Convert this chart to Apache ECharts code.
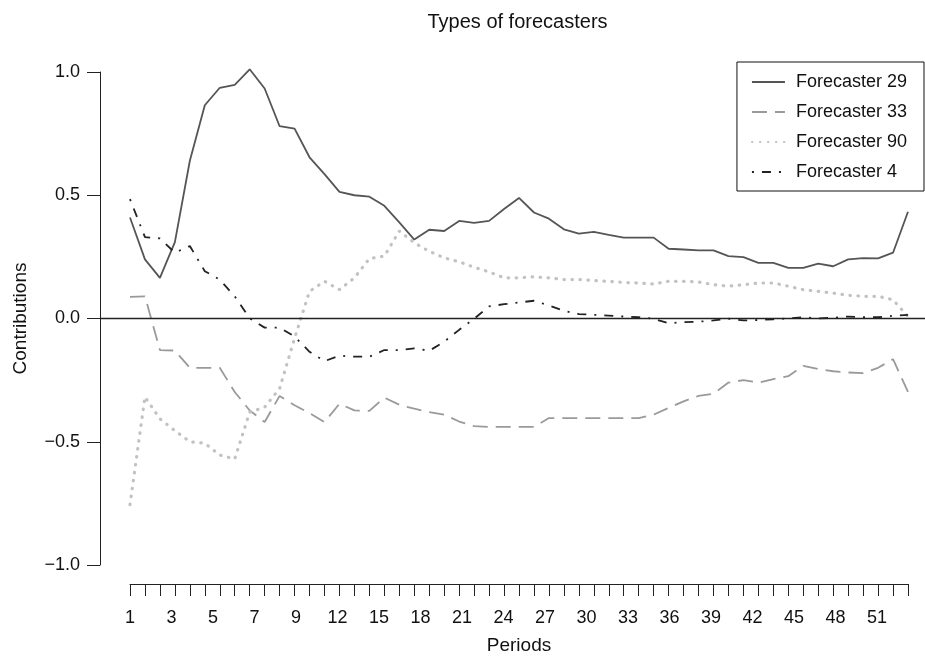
<!DOCTYPE html>
<html>
<head>
<meta charset="utf-8">
<script src="https://cdn.jsdelivr.net/npm/echarts@6/dist/echarts.min.js"></script>
<style>
  html, body { margin: 0; padding: 0; background: #fff; }
  #chart { width: 925px; height: 658px; }
</style>
</head>
<body>
<div id="chart"></div>
<script>
// Periods 1..53
const periods = [1,2,3,4,5,6,7,8,9,10,11,12,13,14,15,16,17,18,19,20,21,22,23,24,25,26,27,
  28,29,30,31,32,33,34,35,36,37,38,39,40,41,42,43,44,45,46,47,48,49,50,51,52,53];

// Tick labels printed under the period axis
const periodLabels = ['1','3','5','7','9','12','15','18','21','24','27','30','33','36','39','42','45','48','51'];

const seriesNames = ['Forecaster 29', 'Forecaster 33', 'Forecaster 90', 'Forecaster 4'];

const forecaster29 = [0.41,0.24,0.165,0.31,0.64,0.865,0.936,0.948,1.011,0.933,0.78,0.77,0.654,0.586,
  0.514,0.50,0.494,0.457,0.39,0.32,0.36,0.355,0.396,0.388,0.396,0.444,0.489,0.43,0.405,0.362,
  0.344,0.351,0.339,0.328,0.328,0.328,0.283,0.28,0.276,0.276,0.253,0.249,0.226,0.226,0.205,
  0.205,0.223,0.212,0.24,0.245,0.244,0.267,0.433];

const forecaster33 = [0.088,0.09,-0.128,-0.13,-0.2,-0.2,-0.2,-0.298,-0.373,-0.42,-0.314,-0.352,
  -0.384,-0.42,-0.346,-0.373,-0.375,-0.321,-0.35,-0.366,-0.38,-0.39,-0.418,-0.437,-0.44,-0.44,
  -0.44,-0.44,-0.404,-0.404,-0.404,-0.404,-0.404,-0.404,-0.404,-0.39,-0.363,-0.336,-0.314,
  -0.305,-0.26,-0.25,-0.26,-0.246,-0.234,-0.192,-0.205,-0.214,-0.219,-0.222,-0.2,-0.165,-0.298];

const forecaster90 = [-0.755,-0.318,-0.407,-0.455,-0.5,-0.506,-0.554,-0.57,-0.38,-0.36,-0.284,
  -0.08,0.11,0.151,0.117,0.165,0.243,0.253,0.355,0.307,0.273,0.246,0.23,0.208,0.189,0.165,
  0.165,0.169,0.165,0.158,0.158,0.154,0.151,0.146,0.144,0.14,0.151,0.151,0.148,0.137,0.131,
  0.137,0.144,0.144,0.131,0.117,0.11,0.103,0.094,0.09,0.09,0.076,0.008];

const forecaster4 = [0.484,0.33,0.325,0.267,0.294,0.192,0.158,0.09,0.001,-0.037,-0.037,-0.073,
  -0.135,-0.173,-0.151,-0.155,-0.155,-0.128,-0.128,-0.121,-0.131,-0.094,-0.046,-0.001,0.049,
  0.058,0.065,0.072,0.053,0.031,0.018,0.015,0.012,0.008,0.005,-0.001,-0.019,-0.015,-0.013,
  -0.008,-0.001,-0.008,-0.006,-0.003,0.0,0.005,0.0,0.003,0.008,0.005,0.005,0.011,0.015];

const FONT = "'Liberation Sans', Arial, Helvetica, sans-serif";

// Plot geometry: the period axis runs from x=130 (period 1) to x=908 (period 53);
// the plot region itself spans x=100..925.
const plotLeft = 100, plotRight = 925, axisLeft = 130, axisRight = 908;
const pxPerPeriod = (axisRight - axisLeft) / (periods[periods.length - 1] - periods[0]);
const xMin = periods[0] - (axisLeft - plotLeft) / pxPerPeriod;
const xMax = periods[periods.length - 1] + (plotRight - axisRight) / pxPerPeriod;
const gridTop = 72, gridBottom = 93;
const labelMax = (periodLabels.length - 1) * (axisRight - axisLeft) / (877 - axisLeft);

function pairs(vals) { return periods.map((p, i) => [p, vals[i]]); }

const styles = [
  { color: '#555555', width: 1.8, type: 'solid' },
  { color: '#9a9a9a', width: 1.8, type: [15, 8] },
  { color: '#c2c2c2', width: 3.2, type: [0.5, 7.5], cap: 'round' },
  { color: '#222222', width: 1.8, type: [2, 8, 9, 8] }
];
const values = [forecaster29, forecaster33, forecaster90, forecaster4];

const series = values.map((v, i) => ({
  name: seriesNames[i],
  type: 'line',
  xAxisIndex: 0,
  yAxisIndex: 0,
  data: pairs(v),
  symbol: 'none',
  clip: false,
  silent: true,
  animation: false,
  color: styles[i].color,
  lineStyle: { color: styles[i].color, width: styles[i].width, type: styles[i].type, cap: styles[i].cap || 'butt' }
}));

// Horizontal reference line at zero across the plot region
series[0].markLine = {
  silent: true,
  symbol: 'none',
  animation: false,
  label: { show: false },
  lineStyle: { color: '#222', width: 1.4, type: 'solid' },
  data: [{ yAxis: 0 }]
};

const chart = echarts.init(document.getElementById('chart'), null, { renderer: 'canvas' });
chart.setOption({
  backgroundColor: '#ffffff',
  animation: false,
  title: {
    text: 'Types of forecasters',
    left: (plotLeft + plotRight) / 2,
    top: 7,
    textAlign: 'center',
    textStyle: { fontFamily: FONT, fontSize: 20, fontWeight: 'normal', color: '#111' }
  },
  legend: {
    orient: 'vertical',
    right: 1,
    top: 62,
    padding: [11, 17, 10, 14],
    itemGap: 12,
    itemWidth: 33,
    itemHeight: 18,
    borderColor: '#111',
    borderWidth: 1,
    borderRadius: 0,
    data: seriesNames,
    itemStyle: { color: 'rgba(0,0,0,0)', borderColor: 'rgba(0,0,0,0)', borderWidth: 0 },
    textStyle: { fontFamily: FONT, fontSize: 18, color: '#111', padding: [0, 0, 0, 6] }
  },
  grid: [
    { left: plotLeft, right: 925 - plotRight, top: gridTop, bottom: gridBottom,
      containLabel: false, outerBoundsMode: 'none' },
    { left: axisLeft, right: 925 - axisRight, top: gridTop, bottom: gridBottom,
      containLabel: false, outerBoundsMode: 'none' }
  ],
  xAxis: [
    { type: 'value', gridIndex: 0, min: xMin, max: xMax, show: false },
    {
      type: 'value', gridIndex: 1, position: 'bottom',
      min: periods[0], max: periods[periods.length - 1], interval: 1,
      offset: 19,
      axisLine: { show: true, onZero: false, lineStyle: { color: '#222', width: 1 } },
      axisTick: { show: true, length: 12, lineStyle: { color: '#222', width: 1 } },
      axisLabel: { show: false },
      splitLine: { show: false }
    },
    {
      type: 'value', gridIndex: 1, position: 'bottom',
      min: 0, max: labelMax, interval: 1,
      offset: 19,
      axisLine: { show: false, onZero: false },
      axisTick: { show: false },
      splitLine: { show: false },
      axisLabel: {
        show: true, margin: 25, fontFamily: FONT, fontSize: 18, color: '#111',
        showMaxLabel: false,
        formatter: v => (Number.isInteger(v) && periodLabels[v] !== undefined) ? periodLabels[v] : ''
      },
      name: 'Periods',
      nameLocation: 'middle',
      nameGap: 52,
      nameTextStyle: { fontFamily: FONT, fontSize: 19, color: '#111' }
    }
  ],
  yAxis: [
    {
      type: 'value', gridIndex: 0, position: 'left', min: -1, max: 1, interval: 0.5,
      axisLine: { show: true, onZero: false, lineStyle: { color: '#222', width: 1 } },
      axisTick: { show: true, length: 13, lineStyle: { color: '#222', width: 1 } },
      splitLine: { show: false },
      axisLabel: {
        margin: 20, fontFamily: FONT, fontSize: 18, color: '#111',
        formatter: v => (v < 0 ? '\u2212' : '') + Math.abs(v).toFixed(1)
      },
      name: 'Contributions',
      nameLocation: 'middle',
      nameGap: 70,
      nameRotate: 90,
      nameTextStyle: { fontFamily: FONT, fontSize: 19, color: '#111' }
    },
    { type: 'value', gridIndex: 1, min: -1, max: 1, show: false }
  ],
  series: series
});
</script>
</body>
</html>
